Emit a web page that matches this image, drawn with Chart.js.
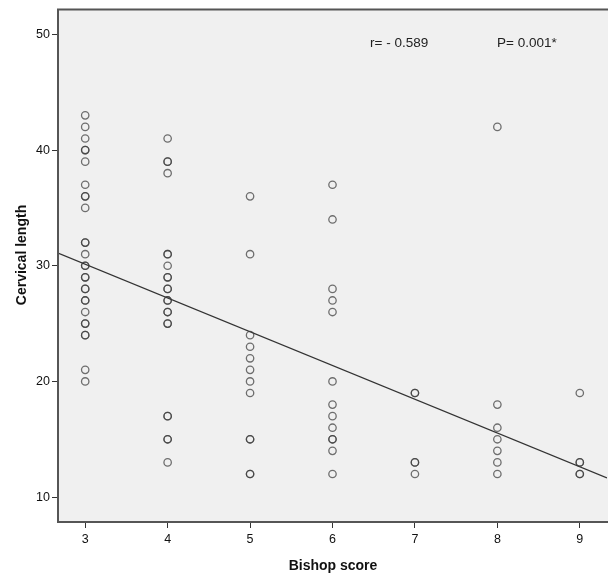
<!DOCTYPE html>
<html>
<head>
<meta charset="utf-8">
<script src="https://cdn.jsdelivr.net/npm/chart.js@4.4.0/dist/chart.umd.min.js"></script>
<style>
  html, body { margin: 0; padding: 0; background: #fff; overflow: hidden; }
  #wrap { width: 612px; height: 577px; }
</style>
</head>
<body>
<div id="wrap"><canvas id="scatterChart" width="612" height="577"></canvas></div>
<script>
// Cervical length readings grouped by Bishop score (repeats = overlapping circles)
const score3 = [43, 42, 41, 40, 40, 39, 37, 36, 36, 35, 32, 32, 31, 30, 30, 29, 29, 28, 28, 27, 27, 26, 25, 25, 24, 24, 21, 20];
const score4 = [41, 39, 39, 38, 31, 31, 30, 29, 29, 28, 28, 27, 27, 26, 26, 25, 25, 17, 17, 15, 15, 13];
const score5 = [36, 31, 24, 23, 22, 21, 20, 19, 15, 15, 12, 12];
const score6 = [37, 34, 28, 27, 26, 20, 18, 17, 16, 15, 15, 14, 12];
const score7 = [19, 19, 13, 13, 12];
const score8 = [42, 18, 16, 15, 14, 13, 12];
const score9 = [19, 13, 13, 12, 12];

const bishopScores = [3, 4, 5, 6, 7, 8, 9];
const lengthTicks = [10, 20, 30, 40, 50];

// fit line
const fitIntercept = 38.9;
const fitSlope = -2.92;
const statLabels = ['r= - 0.589', 'P= 0.001*'];

const groups = [score3, score4, score5, score6, score7, score8, score9];
const points = [];
groups.forEach((vals, i) => {
  vals.forEach(v => points.push({ x: bishopScores[i], y: v }));
});

const xMin = 2.67, xMax = 9.33;
const fitLine = [
  { x: xMin, y: fitIntercept + fitSlope * xMin },
  { x: xMax, y: fitIntercept + fitSlope * xMax }
];

const fontFam = "'Liberation Sans Narrow', 'Liberation Sans', Arial, sans-serif";

// plot background, frame (no right side, it is cropped off), titles, r / P text
const framePlugin = {
  id: 'frame',
  beforeDraw(chart) {
    const { ctx, chartArea: a } = chart;
    ctx.save();
    ctx.fillStyle = '#f0f0f0';
    ctx.fillRect(a.left, a.top, chart.width - a.left, a.bottom - a.top);
    ctx.restore();
  },
  afterDraw(chart) {
    const { ctx, chartArea: a } = chart;
    ctx.save();
    ctx.strokeStyle = '#555';
    ctx.lineWidth = 2;
    ctx.beginPath();
    ctx.moveTo(chart.width, a.top);
    ctx.lineTo(a.left, a.top);
    ctx.lineTo(a.left, a.bottom);
    ctx.lineTo(chart.width, a.bottom);
    ctx.stroke();

    ctx.fillStyle = '#111';
    ctx.font = "bold 14px 'Liberation Sans', Arial, sans-serif";
    ctx.textAlign = 'center';
    ctx.textBaseline = 'middle';
    ctx.fillText('Bishop score', 333, 566);
    ctx.translate(22, 255);
    ctx.rotate(-Math.PI / 2);
    ctx.fillText('Cervical length', 0, 0);
    ctx.restore();

    ctx.save();
    ctx.fillStyle = '#222';
    ctx.font = '13.5px ' + fontFam;
    ctx.textBaseline = 'middle';
    ctx.textAlign = 'left';
    ctx.fillText(statLabels[0], 370, 43);
    ctx.fillText(statLabels[1], 497, 43);
    ctx.restore();
  }
};

new Chart(document.getElementById('scatterChart'), {
  type: 'scatter',
  data: {
    datasets: [
      {
        label: 'Cervical length',
        data: points,
        pointStyle: 'circle',
        pointRadius: 3.7,
        pointBorderWidth: 1.3,
        pointBorderColor: 'rgba(60,60,60,0.72)',
        pointBackgroundColor: 'rgba(0,0,0,0)',
        pointHoverRadius: 3.7
      },
      {
        type: 'line',
        label: 'Fit',
        data: fitLine,
        borderColor: '#333',
        borderWidth: 1.3,
        pointRadius: 0,
        fill: false
      }
    ]
  },
  options: {
    responsive: false,
    animation: false,
    layout: { padding: { top: 8, right: 2, left: 0, bottom: 0 } },
    plugins: {
      legend: { display: false },
      tooltip: { enabled: false }
    },
    scales: {
      x: {
        type: 'linear',
        min: xMin,
        max: xMax,
        afterBuildTicks: s => { s.ticks = bishopScores.map(v => ({ value: v })); },
        afterFit: s => { s.height = 55; },
        grid: { drawOnChartArea: false, tickLength: 6, color: '#333', lineWidth: 1 },
        border: { display: false },
        ticks: { color: '#111', font: { family: fontFam, size: 12.5 }, padding: 4 }
      },
      y: {
        type: 'linear',
        min: 7.85,
        max: 52.15,
        afterBuildTicks: s => { s.ticks = lengthTicks.map(v => ({ value: v })); },
        afterFit: s => { s.width = 58; },
        grid: { drawOnChartArea: false, tickLength: 6, color: '#333', lineWidth: 1 },
        border: { display: false },
        ticks: { color: '#111', font: { family: fontFam, size: 12.5 }, padding: 2 }
      }
    }
  },
  plugins: [framePlugin]
});
</script>
</body>
</html>
